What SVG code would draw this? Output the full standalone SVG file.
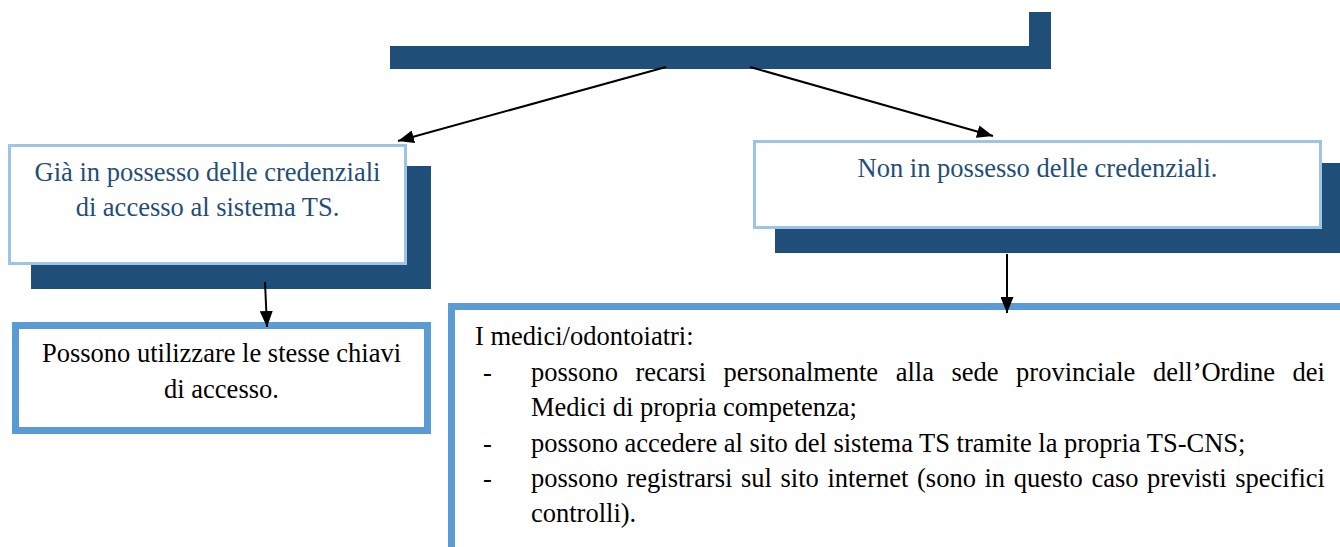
<svg xmlns="http://www.w3.org/2000/svg" width="1340" height="547" viewBox="0 0 1340 547">
<style>
  .shadow { fill: #1F4E79; }
  .lightbox { fill: #FFFFFF; stroke: #9DC3E6; stroke-width: 3; }
  .thickbox { fill: #FFFFFF; stroke: #5B9BD5; stroke-width: 7; }
  text { font-family: "Liberation Serif", "Times New Roman", serif; font-size: 26.5px; }
  .blue { fill: #1F4E79; }
  .black { fill: #000000; }
  .conn { stroke: #000000; stroke-width: 2; fill: none; marker-end: url(#arrow); }
</style>
<defs>
  <marker id="arrow" viewBox="0 0 16 13" refX="16" refY="6.5" markerWidth="16" markerHeight="13" markerUnits="userSpaceOnUse" orient="auto">
    <path d="M0,0 L16,6.5 L0,13 z" fill="#000000"/>
  </marker>
</defs>
<rect width="1340" height="547" fill="#FFFFFF"/>

<g id="node-top">
  <path class="shadow" d="M1029,12 L1051,12 L1051,69 L390,69 L390,46 L1029,46 z"/>
</g>

<g id="node-gia">
  <rect class="shadow" x="31" y="166" width="400" height="123"/>
  <rect class="lightbox" x="9.5" y="145.5" width="396" height="118"/>
  <text class="blue" x="207.5" y="181" text-anchor="middle">Già in possesso delle credenziali</text>
  <text class="blue" x="207.5" y="216" text-anchor="middle">di accesso al sistema TS.</text>
</g>

<g id="node-non">
  <rect class="shadow" x="775" y="163" width="570" height="90"/>
  <rect class="lightbox" x="754.5" y="141.5" width="566" height="86"/>
  <text class="blue" x="1037.5" y="177" text-anchor="middle">Non in possesso delle credenziali.</text>
</g>

<g id="node-possono">
  <rect class="thickbox" x="15.5" y="325.5" width="412" height="105"/>
  <text class="black" x="221.5" y="362" text-anchor="middle">Possono utilizzare le stesse chiavi</text>
  <text class="black" x="221.5" y="398" text-anchor="middle">di accesso.</text>
</g>

<g id="node-medici">
  <rect class="thickbox" x="451.5" y="306.5" width="900" height="300"/>
  <text class="black" x="475" y="345">I medici/odontoiatri:</text>
  <text class="black" x="483" y="381">-</text>
  <text class="black" y="381"><tspan x="531">possono</tspan><tspan x="635.4">recarsi</tspan><tspan x="723.6">personalmente</tspan><tspan x="895.7">alla</tspan><tspan x="951.5">sede</tspan><tspan x="1016.1">provinciale</tspan><tspan x="1152.9">dell’Ordine</tspan><tspan x="1292.6">dei</tspan></text>
  <text class="black" x="531" y="416">Medici di propria competenza;</text>
  <text class="black" x="483" y="452">-</text>
  <text class="black" x="531" y="452">possono accedere al sito del sistema TS tramite la propria TS-CNS;</text>
  <text class="black" x="483" y="487">-</text>
  <text class="black" y="487"><tspan x="531">possono</tspan><tspan x="626.5">registrarsi</tspan><tspan x="741">sul</tspan><tspan x="780.5">sito</tspan><tspan x="827.4">internet</tspan><tspan x="917">(sono</tspan><tspan x="984.4">in</tspan><tspan x="1013.7">questo</tspan><tspan x="1091.4">caso</tspan><tspan x="1147.1">previsti</tspan><tspan x="1235.2">specifici</tspan></text>
  <text class="black" x="531" y="522">controlli).</text>
</g>

<g id="connectors">
  <path class="conn" d="M666,67 L398,141"/>
  <path class="conn" d="M750,67 L993,136"/>
  <path class="conn" d="M265,282 L267,327"/>
  <path class="conn" d="M1007,254 L1007,313"/>
</g>
</svg>
